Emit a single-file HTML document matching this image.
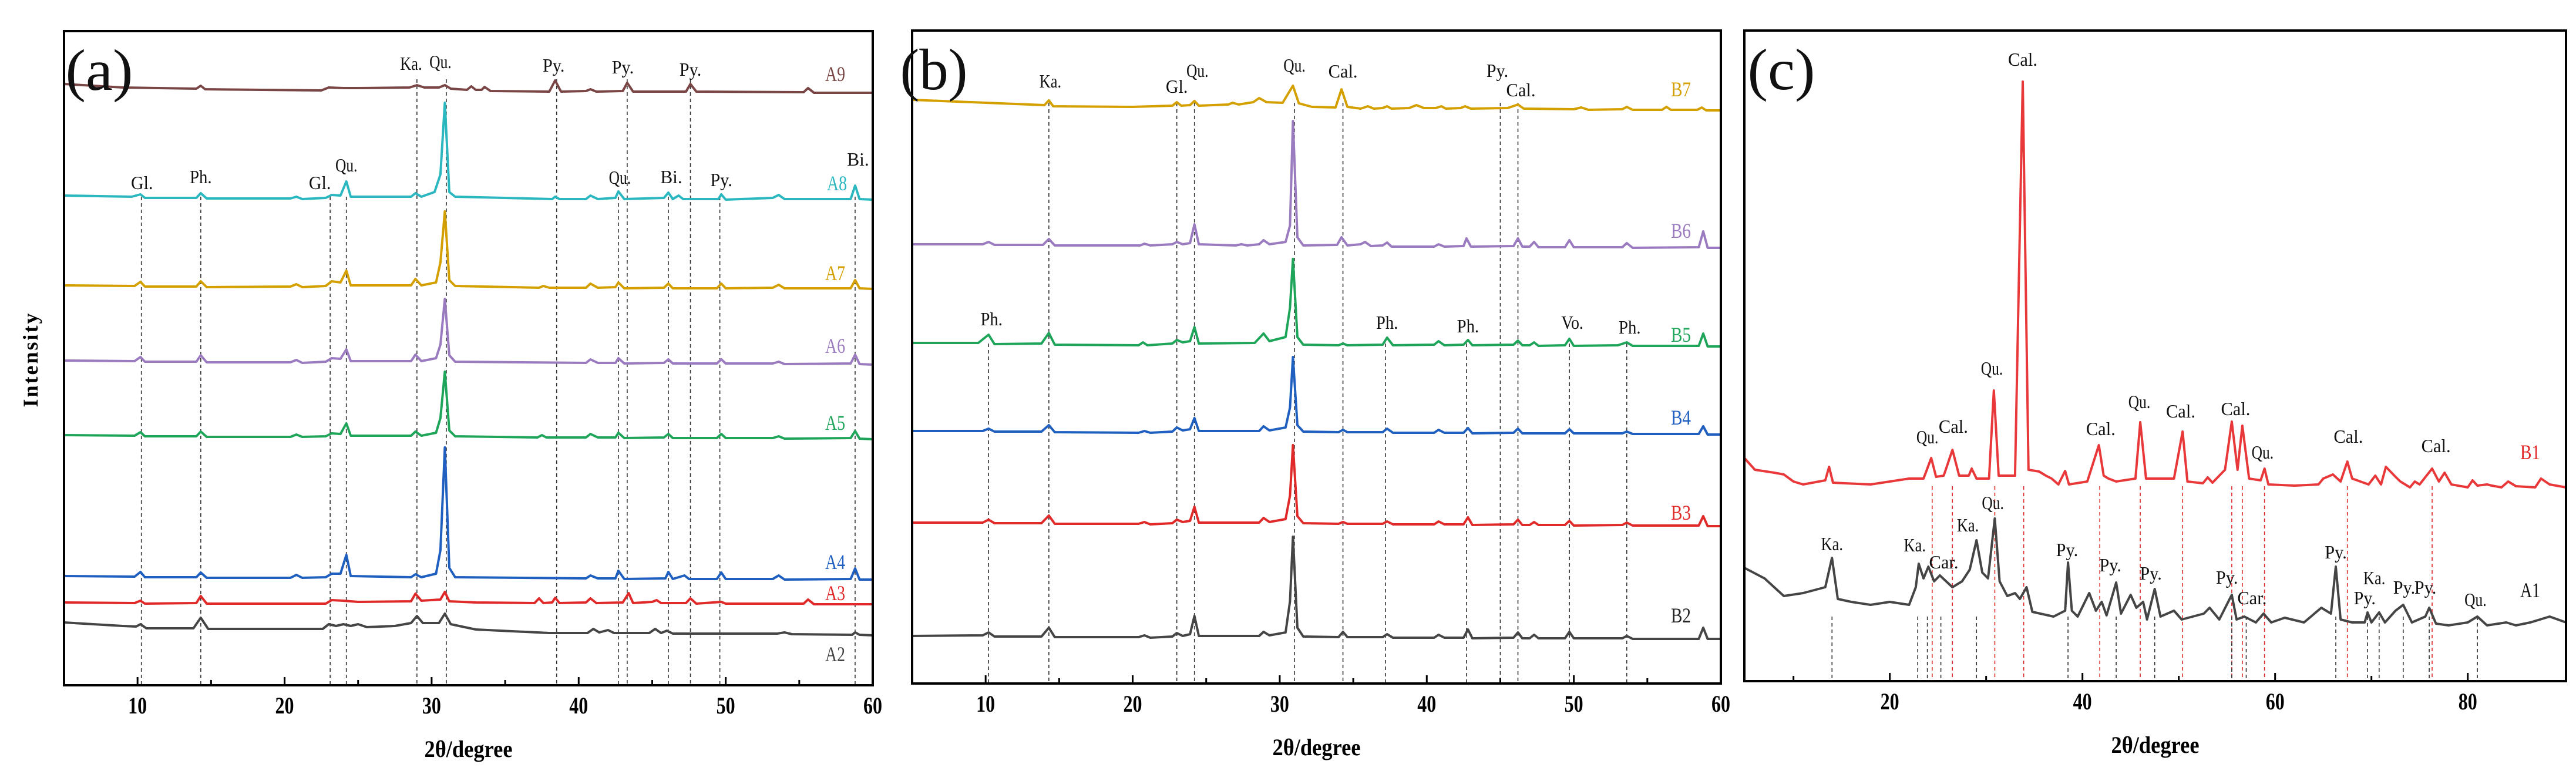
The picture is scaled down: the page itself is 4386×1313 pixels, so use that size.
<!DOCTYPE html>
<html><head><meta charset="utf-8"><style>
html,body{margin:0;padding:0;background:#fff;}
svg{display:block;}
text{font-family:"Liberation Serif",serif;}
</style></head><body>
<svg id="chart" xmlns="http://www.w3.org/2000/svg" width="4386" height="1313" viewBox="0 0 4386 1313">
<rect x="0" y="0" width="4386" height="1313" fill="#fff"/>
<text x="52" y="612" font-size="36" font-weight="bold" text-anchor="middle" dominant-baseline="central" letter-spacing="3" transform="rotate(-90 52 612)">Intensity</text>
</svg>
<script>
// ---------- data ----------
// panel (a) series: [2theta, intensity]
const seriesA9=[[5,1024],[9,1018],[14,1016],[14.3,1021],[14.6,1015],[22.5,1013],[23,1018],[24,1017],[25,1017],[28.5,1018],[29,1022],[29.5,1018],[30.5,1018],[30.9,1022],[31.3,1016],[32.4,1014],[32.7,1020],[33,1014],[33.4,1014],[33.6,1019],[34,1012],[38,1011],[38.4,1030],[38.8,1011],[40.5,1012],[40.8,1015],[41.2,1011],[43,1012],[43.3,1026],[43.7,1011],[47.3,1011],[47.6,1024],[48,1011],[55.3,1010],[55.6,1017],[56,1009],[60,1009]];
const seriesA8=[[5,834],[9.6,832],[10.2,836],[10.5,830],[14,830],[14.3,838],[14.7,829],[20.4,829],[20.8,832],[21.2,828],[22.8,830],[23.2,835],[23.8,834],[24.2,858],[24.5,832],[28.6,832],[28.9,838],[29.3,832],[30.2,840],[30.6,870],[30.9,992],[31.2,840],[31.6,832],[38.2,828],[38.4,832],[38.7,828],[40.5,828],[40.8,834],[41.3,828],[42.5,830],[42.7,841],[43.1,828],[45.8,830],[46.1,839],[46.4,828],[46.8,834],[47.1,828],[49.5,828],[49.7,836],[50,827],[53.2,830],[53.6,835],[54,828],[58.5,828],[58.8,851],[59.1,828],[60,827]];
const seriesA7=[[5,681],[9.8,680],[10.2,687],[10.5,679],[14,679],[14.3,688],[14.7,678],[20.4,679],[20.8,683],[21.2,678],[22.8,680],[23.2,688],[23.8,686],[24.2,706],[24.5,681],[28.6,681],[28.9,692],[29.3,681],[30.3,686],[30.6,720],[30.9,807],[31.2,690],[31.6,680],[37.3,677],[37.6,680],[38,677],[40.5,677],[40.8,684],[41.3,677],[42.5,678],[42.7,686],[43.1,676],[45.8,677],[46.1,684],[46.4,676],[49.4,676],[49.7,684],[50,676],[53.2,677],[53.6,682],[54,676],[58.5,676],[58.8,690],[59.1,676],[60,675]];
const seriesA6=[[5,553],[9.8,552],[10.2,559],[10.5,551],[14,551],[14.3,562],[14.7,550],[20.4,550],[20.8,554],[21.2,549],[22.8,551],[23.2,557],[23.8,556],[24.2,572],[24.5,552],[28.6,552],[28.9,563],[29.3,552],[30.3,557],[30.6,580],[30.9,658],[31.2,562],[31.6,551],[40.5,549],[40.8,555],[41.3,549],[42.5,549],[42.7,557],[43.1,548],[45.8,549],[46.1,555],[46.4,548],[49.4,548],[49.7,555],[50,548],[53.2,548],[53.6,551],[54,547],[58.5,548],[58.8,563],[59.1,547],[60,546]];
const seriesA5=[[5,426],[9.8,425],[10.2,431],[10.5,424],[14,424],[14.3,432],[14.7,423],[20.4,423],[20.8,427],[21.2,423],[22.8,424],[23.2,429],[23.8,428],[24.2,446],[24.5,425],[28.6,425],[28.9,432],[29.3,425],[30.3,430],[30.6,455],[30.9,534],[31.2,434],[31.6,424],[37.2,422],[37.5,426],[37.8,422],[40.5,422],[40.8,428],[41.3,422],[42.5,422],[42.7,430],[43.1,421],[45.8,422],[46.1,428],[46.4,421],[49.4,421],[49.7,428],[50,421],[53.2,421],[53.6,424],[54,420],[58.5,421],[58.8,433],[59.1,420],[60,419]];
const seriesA4=[[5,186],[9.8,185],[10.2,193],[10.5,184],[14,184],[14.3,192],[14.7,183],[20.4,183],[20.8,188],[21.2,183],[22.8,184],[23.2,190],[23.8,190],[24.2,222],[24.5,186],[28.6,184],[28.9,189],[29.3,184],[30.3,190],[30.6,230],[30.9,405],[31.2,200],[31.6,184],[40.5,182],[40.8,187],[41.3,182],[42.5,182],[42.7,195],[43.1,181],[45.9,182],[46.1,193],[46.4,181],[47.2,187],[47.5,181],[49.4,181],[49.7,192],[50,181],[53.2,181],[53.6,187],[54,180],[58.5,181],[58.8,199],[59.1,180],[60,180]];
const seriesA3=[[5,141],[9.8,140],[10.2,144],[10.5,139],[14,140],[14.3,152],[14.7,139],[22.8,139],[23.2,145],[24,144],[25,142],[28.6,143],[28.9,156],[29.3,144],[30.6,146],[30.9,159],[31.2,143],[33,141],[37,140],[37.3,148],[37.6,140],[38.2,141],[38.4,149],[38.7,140],[40.5,141],[40.8,148],[41.2,140],[43,141],[43.4,157],[43.7,140],[45,142],[45.3,145],[45.6,140],[47.3,140],[47.6,148],[48,139],[49.7,142],[50,139],[55.3,139],[55.6,146],[56,138],[60,138]];
const seriesA2=[[5,107],[9,101],[9.9,100],[10.2,104],[10.6,97],[13.8,97],[14.3,115],[14.8,96],[22.6,96],[23,104],[23.5,101],[24,104],[24.5,101],[25,104],[25.6,99],[27.5,101],[28.6,106],[29,118],[29.4,106],[30.5,106],[30.9,122],[31.3,104],[33,95],[38,89],[40.6,89],[41,96],[41.4,90],[42,94],[42.4,89],[44.8,89],[45.2,96],[45.6,89],[46,93],[46.4,88],[53.5,88],[54,90],[54.5,87],[58.6,86],[58.8,90],[59.1,86],[60,85]];
// panel (b) series
const seriesB7=[[5,994],[8,991],[12,987],[14,985],[14.3,993],[14.6,983],[20,982],[22.7,984],[23,990],[23.3,984],[23.9,985],[24.2,992],[24.5,984],[26.5,986],[26.8,989],[27.2,986],[28.2,990],[28.6,997],[29.1,990],[30.2,989],[30.9,1018],[31.3,988],[32.2,982],[33.8,981],[34.2,1012],[34.6,982],[35.5,979],[36,983],[36.4,979],[37,980],[37.3,983],[37.6,979],[38.8,980],[39.3,985],[39.8,980],[40.6,980],[41,983],[41.3,979],[42.3,980],[42.6,983],[43,979],[45.5,980],[46.2,986],[46.6,979],[50,978],[50.5,981],[51,977],[53.3,978],[53.6,982],[54,977],[56,977],[56.3,982],[56.6,977],[58.4,977],[58.7,981],[59,976],[60,976]];
const seriesB6=[[5,748],[9.8,748],[10.2,752],[10.6,747],[13.9,747],[14.3,757],[14.7,746],[20.5,746],[20.8,749],[21.2,746],[22.7,748],[23,752],[23.4,748],[23.9,750],[24.2,782],[24.5,748],[27,746],[27.4,748],[27.8,746],[28.6,748],[28.9,755],[29.3,748],[30.4,752],[30.7,780],[30.9,958],[31.2,760],[31.6,746],[33.9,747],[34.2,760],[34.6,746],[35.5,748],[35.8,752],[36.2,745],[37,746],[37.3,751],[37.6,744],[40.5,744],[40.8,748],[41.2,744],[42.5,745],[42.7,758],[43,744],[45.9,745],[46.2,758],[46.5,744],[47,744],[47.3,752],[47.6,743],[49.4,743],[49.7,755],[50,743],[53.3,743],[53.6,750],[54,742],[58.5,743],[58.8,770],[59.1,742],[60,742]];
const seriesB5=[[5,580],[9.5,580],[10.2,594],[10.6,578],[13.8,579],[14.3,597],[14.7,577],[20.4,576],[20.7,581],[21,576],[22.7,579],[23,585],[23.4,581],[23.9,583],[24.2,607],[24.5,579],[28.3,580],[28.9,596],[29.3,583],[30.4,590],[30.7,640],[30.9,723],[31.2,590],[31.6,577],[34,576],[34.3,579],[34.6,576],[37,577],[37.3,589],[37.7,576],[40.5,577],[40.8,583],[41.2,576],[42.5,577],[42.8,585],[43.1,576],[45.9,577],[46.2,584],[46.5,576],[47,576],[47.3,581],[47.6,575],[49.4,576],[49.7,587],[50,575],[53,576],[53.6,581],[54,575],[58.5,575],[58.8,596],[59.1,574],[60,574]];
const seriesB4=[[5,430],[9.8,430],[10.2,434],[10.6,429],[13.8,429],[14.3,440],[14.7,428],[20.4,427],[20.8,430],[21.2,427],[22.7,429],[23,436],[23.4,431],[23.9,433],[24.2,452],[24.5,430],[28.6,430],[28.9,438],[29.3,431],[30.4,436],[30.7,470],[30.9,556],[31.2,440],[31.6,429],[34,428],[34.3,432],[34.6,428],[37,428],[37.3,434],[37.7,427],[40.5,427],[40.8,432],[41.2,427],[42.5,427],[42.8,435],[43.1,426],[45.9,427],[46.2,434],[46.5,426],[49.4,426],[49.7,433],[50,426],[53.3,426],[53.6,429],[54,425],[58.5,425],[58.8,438],[59.1,424],[60,424]];
const seriesB3=[[5,274],[9.8,274],[10.2,279],[10.6,273],[13.8,273],[14.3,286],[14.7,272],[20.4,272],[20.8,275],[21.2,271],[22.7,273],[23,279],[23.4,275],[23.9,277],[24.2,301],[24.5,274],[28.6,274],[28.9,282],[29.3,275],[30.4,280],[30.7,320],[30.9,406],[31.2,285],[31.6,273],[34,272],[34.3,275],[34.6,272],[37,272],[37.3,276],[37.7,271],[40.5,271],[40.8,276],[41.2,271],[42.5,271],[42.8,283],[43.1,270],[45.9,271],[46.2,279],[46.5,270],[47,270],[47.3,275],[47.6,270],[49.4,270],[49.7,277],[50,269],[53.3,270],[53.6,274],[54,269],[58.5,269],[58.8,285],[59.1,268],[60,268]];
const seriesB2=[[5,81],[9.8,82],[10.2,87],[10.6,80],[13.8,80],[14.3,95],[14.7,79],[20.4,79],[20.8,82],[21.2,78],[22.7,80],[23,86],[23.4,81],[23.9,84],[24.2,115],[24.5,81],[28.6,81],[28.9,88],[29.3,82],[30.4,87],[30.7,140],[30.9,250],[31.2,95],[31.6,80],[34,79],[34.3,88],[34.6,79],[37,79],[37.3,84],[37.7,78],[40.5,78],[40.8,83],[41.2,78],[42.5,78],[42.8,92],[43.1,77],[45.9,78],[46.2,87],[46.5,77],[47,77],[47.3,83],[47.6,77],[49.4,77],[49.7,88],[50,77],[53.3,77],[53.6,81],[54,76],[58.5,76],[58.8,95],[59.1,76],[60,76]];
// panel (c) series
const seriesB1=[[4.9,380],[6,360],[8,355],[9,352],[10,340],[11,335],[13.3,342],[13.7,365],[14.1,338],[18,335],[22,345],[23.5,345],[24.3,380],[24.8,348],[25.6,350],[26.5,394],[27.2,350],[28.2,350],[28.5,362],[29,345],[30.3,345],[30.8,495],[31.3,350],[33,350],[33.8,1021],[34.4,360],[35.5,357],[36.2,350],[36.8,345],[37.5,335],[38.2,358],[38.6,335],[40.5,340],[41.7,402],[42.2,350],[42.7,345],[43.5,340],[45.5,345],[46,441],[46.6,345],[49.5,345],[50.4,425],[50.9,340],[52.5,337],[53,347],[53.5,338],[54.8,360],[55.5,442],[56.1,360],[56.6,435],[57.3,345],[58.5,342],[58.9,362],[59.3,335],[62,333],[64.5,335],[65,345],[66,352],[66.8,340],[67.5,374],[68,345],[69.7,335],[70.4,350],[71,335],[71.5,365],[72.5,348],[73,340],[74,330],[74.5,340],[75,335],[76.3,362],[77,340],[77.6,355],[78.3,335],[80,330],[80.5,342],[81,333],[82,335],[82.5,333],[83.5,330],[84.2,340],[85,332],[87,330],[87.6,345],[88.5,335],[90.2,330]];
const seriesA1=[[4.9,193],[7,175],[9,145],[11,150],[13.3,160],[14,210],[14.6,140],[16,135],[18,130],[20,135],[22,130],[22.7,160],[23,200],[23.5,175],[24,195],[24.6,170],[25.2,180],[26.5,160],[27.5,170],[28.3,190],[29,240],[29.6,185],[30.2,175],[30.9,277],[31.4,170],[32.2,145],[33,150],[33.5,140],[34.2,160],[34.8,118],[37,110],[38.2,120],[38.5,202],[38.9,120],[39.5,110],[40.7,150],[41.4,120],[42,135],[42.5,112],[43.5,168],[44,115],[45,147],[45.6,125],[46.3,135],[46.7,105],[47.5,157],[48.1,110],[49.5,120],[50.3,105],[52.6,115],[53.2,125],[54.2,105],[55.5,147],[56,105],[56.8,110],[58,100],[58.8,115],[59.6,100],[61,108],[63,100],[64.8,125],[65.8,115],[66.3,195],[66.8,105],[68,100],[69.3,100],[69.6,117],[70,100],[70.8,117],[71.4,100],[72.5,120],[73.3,130],[74.2,100],[75.6,110],[76,125],[76.7,98],[78,95],[80,100],[81,110],[82,95],[84,100],[85,95],[86.5,100],[88.5,110],[90.2,100]];

// series names / colors / labels
const namesA=['A9','A8','A7','A6','A5','A4','A3','A2'];
const namesB=['B7','B6','B5','B4','B3','B2'];
const namesC=['B1','A1'];
// tick labels
const ticksAB=[10,20,30,40,50,60];
const minorAB=[15,25,35,45,55];
const ticksC=[20,40,60,80];
const minorC=[10,30,50,70];
// phase marker positions (2theta) for dashed guides
const guidesA=[10.26,14.3,23.1,24.2,29.0,31.0,38.5,42.7,43.3,46.1,47.6,49.6,58.8];
const guidesB=[10.2,14.3,23.0,24.2,31.0,34.3,37.2,42.7,45.0,46.2,49.7,53.6];
const guidesCred=[24.4,26.5,30.9,33.9,41.8,46.0,50.4,55.5,56.6,58.9,67.5,76.3];
const guidesCdark=[14.0,22.9,23.9,25.3,29.0,38.5,43.5,47.5,55.5,57.0,66.3,69.6,70.8,73.3,76.0,81.0];
// annotation text, 2theta, intensity
const labelsA=[['Ka.',28.6,1048],['Qu.',30.6,1051],['Py.',38.3,1045],['Py.',43.0,1042],['Py.',47.6,1038],
 ['Gl.',10.3,845],['Ph.',14.3,855],['Gl.',22.4,845],['Qu.',24.2,875],['Qu.',42.8,854],['Bi.',46.3,855],['Py.',49.7,850],['Bi.',59.0,885]];
const labelsB=[['Ka.',14.4,1015],['Gl.',23.0,1006],['Qu.',24.4,1033],['Qu.',31.0,1042],['Cal.',34.3,1032],['Py.',44.8,1033],['Cal.',46.4,1000],
 ['Ph.',10.4,610],['Ph.',37.3,604],['Ph.',42.8,598],['Vo.',49.9,604],['Ph.',53.8,596]];
const labelsC=[['Cal.',33.8,1048],['Qu.',30.6,522],['Qu.',45.9,465],['Cal.',50.2,449],['Cal.',55.9,453],['Qu.',23.9,405],['Cal.',26.6,423],['Cal.',41.9,419],['Qu.',58.7,379],['Cal.',67.6,406],['Cal.',76.7,390],
 ['Ka.',14.0,223],['Ka.',22.6,221],['Car.',25.6,192],['Ka.',28.1,255],['Qu.',30.7,293],['Py.',38.4,213],['Py.',42.9,187],['Py.',47.1,173],['Py.',55.0,166],['Car.',57.6,131],['Py.',66.3,209],['Ka.',70.3,165],['Py.',69.3,131],['Py.',73.4,149],['Py.',75.6,149],['Qu.',80.8,128]];

// ---------- rendering ----------
const svg=document.getElementById('chart');
const NS='http://www.w3.org/2000/svg';
function mk(tag,attrs,parent){const e=document.createElementNS(NS,tag);for(const k in attrs)e.setAttribute(k,attrs[k]);(parent||svg).appendChild(e);return e;}
const panels={
 a:{left:109,right:1486,top:53,bottom:1167,xmin:5,xmax:60},
 b:{left:1553,right:2930,top:52,bottom:1164,xmin:5,xmax:60},
 c:{left:2970,right:4369,top:52,bottom:1160,xmin:4.9,xmax:90.2}};
function xs(p,v){return p.left+(v-p.xmin)/(p.xmax-p.xmin)*(p.right-p.left);}
function ys(p,v){return p.bottom-v;}

function drawGuides(p,arr,top,color,name){
 arr.forEach(v=>{const l=mk('line',{x1:xs(p,v),x2:xs(p,v),y1:top,y2:p.bottom,stroke:color,'stroke-width':1.6,'stroke-dasharray':'6,5'});
  
  });
}
function drawSeries(p,data,color,name){
 const d=data.map((pt,i)=>(i?'L':'M')+xs(p,pt[0]).toFixed(1)+','+ys(p,pt[1]).toFixed(1)).join('');
 const e=mk('path',{d:d,fill:'none',stroke:color,'stroke-width':4,'stroke-linejoin':'round'});
 
 
}
function drawLabels(p,arr,name){
 arr.forEach(a=>{const t=mk('text',{x:xs(p,a[1]),y:ys(p,a[2]),'font-size':32,'text-anchor':'middle',fill:'#111',textLength:a[0].length*12.5,lengthAdjust:'spacingAndGlyphs'});
  t.textContent=a[0];
  
  });
}
function seriesLabel(x,y,txt,color){
 const t=mk('text',{x:x,y:y,'font-size':36,'text-anchor':'middle','dominant-baseline':'central',fill:color,textLength:txt.length*17,lengthAdjust:'spacingAndGlyphs'});
 t.textContent=txt;
 
 
}
function drawAxes(p,key,ticks,minor,title){
 const f=mk('rect',{x:p.left,y:p.top,width:p.right-p.left,height:p.bottom-p.top,fill:'none',stroke:'#000','stroke-width':4});
 
 
 ticks.forEach(v=>{mk('line',{x1:xs(p,v),x2:xs(p,v),y1:p.bottom,y2:p.bottom-14,stroke:'#000','stroke-width':3});
  const t=mk('text',{x:xs(p,v),y:p.bottom+48,'font-size':40,'font-weight':'bold','text-anchor':'middle',textLength:String(v).length*16,lengthAdjust:'spacingAndGlyphs'});
  t.textContent=v;
  
  });
 minor.forEach(v=>{mk('line',{x1:xs(p,v),x2:xs(p,v),y1:p.bottom,y2:p.bottom-9,stroke:'#000','stroke-width':3});});
 const tt=mk('text',{x:(p.left+p.right)/2,y:p.bottom+122,'font-size':40,'font-weight':'bold','text-anchor':'middle',textLength:150,lengthAdjust:'spacingAndGlyphs'});
 tt.textContent='2θ/degree';
 
 
 const pl=mk('text',{x:p.left+(key==='a'?60:key==='b'?37:63),y:p.top+100,'font-size':100,'text-anchor':'middle',fill:'#111',textLength:115,lengthAdjust:'spacingAndGlyphs'});
 pl.textContent='('+key+')';
 
 
}

// panel a
const pa=panels.a;
drawGuides(pa,guidesA.filter((v,i)=>[4,5,6,8,10].includes(i)),135,'#333','guide-line-a');
drawGuides(pa,guidesA.filter((v,i)=>![4,5,6,8,10].includes(i)),335,'#333','guide-line-a');
const colA=['#7a4545','#2ab7c0','#d4a000','#9b7bbf','#1fa55a','#1f5fbf','#e02a2a','#454545'];
[seriesA9,seriesA8,seriesA7,seriesA6,seriesA5,seriesA4,seriesA3,seriesA2].forEach((s,i)=>drawSeries(pa,s,colA[i],'series-'+namesA[i].toLowerCase()));
drawLabels(pa,labelsA,'phase-label-a');
const labYA=[126,312,465,589,720,957,1010,1114];
namesA.forEach((n,i)=>seriesLabel(i===1?1425:1422,labYA[i],n,colA[i]));
drawAxes(pa,'a',ticksAB,minorAB);

// panel b
const pb=panels.b;
drawGuides(pb,guidesB.filter((v,i)=>[0,6,7,10,11].includes(i)),585,'#333','guide-line-b');
drawGuides(pb,guidesB.filter((v,i)=>![0,6,7,10,11].includes(i)),175,'#333','guide-line-b');
const colB=['#d4a000','#9b7bbf','#1fa55a','#1f5fbf','#e02a2a','#222'];
[seriesB7,seriesB6,seriesB5,seriesB4,seriesB3,seriesB2].forEach((s,i)=>drawSeries(pb,s,i===5?'#454545':colB[i],'series-'+namesB[i].toLowerCase()));
drawLabels(pb,labelsB,'phase-label-b');
const labYB=[152,393,570,711,873,1048];
namesB.forEach((n,i)=>seriesLabel(2862,labYB[i],n,colB[i]));
drawAxes(pb,'b',ticksAB,minorAB);

// panel c
const pc=panels.c;
drawGuides(pc,guidesCred,828,'#e02a2a','guide-line-c-b1');
drawGuides(pc,guidesCdark,1050,'#333','guide-line-c-a1');
drawSeries(pc,seriesB1,'#e8383a','series-b1');
drawSeries(pc,seriesA1,'#454545','series-a1');
drawLabels(pc,labelsC,'phase-label-c');
seriesLabel(4308,770,'B1','#e02a2a');
seriesLabel(4308,1005,'A1','#111');
drawAxes(pc,'c',ticksC,minorC);
</script>
</body></html>
